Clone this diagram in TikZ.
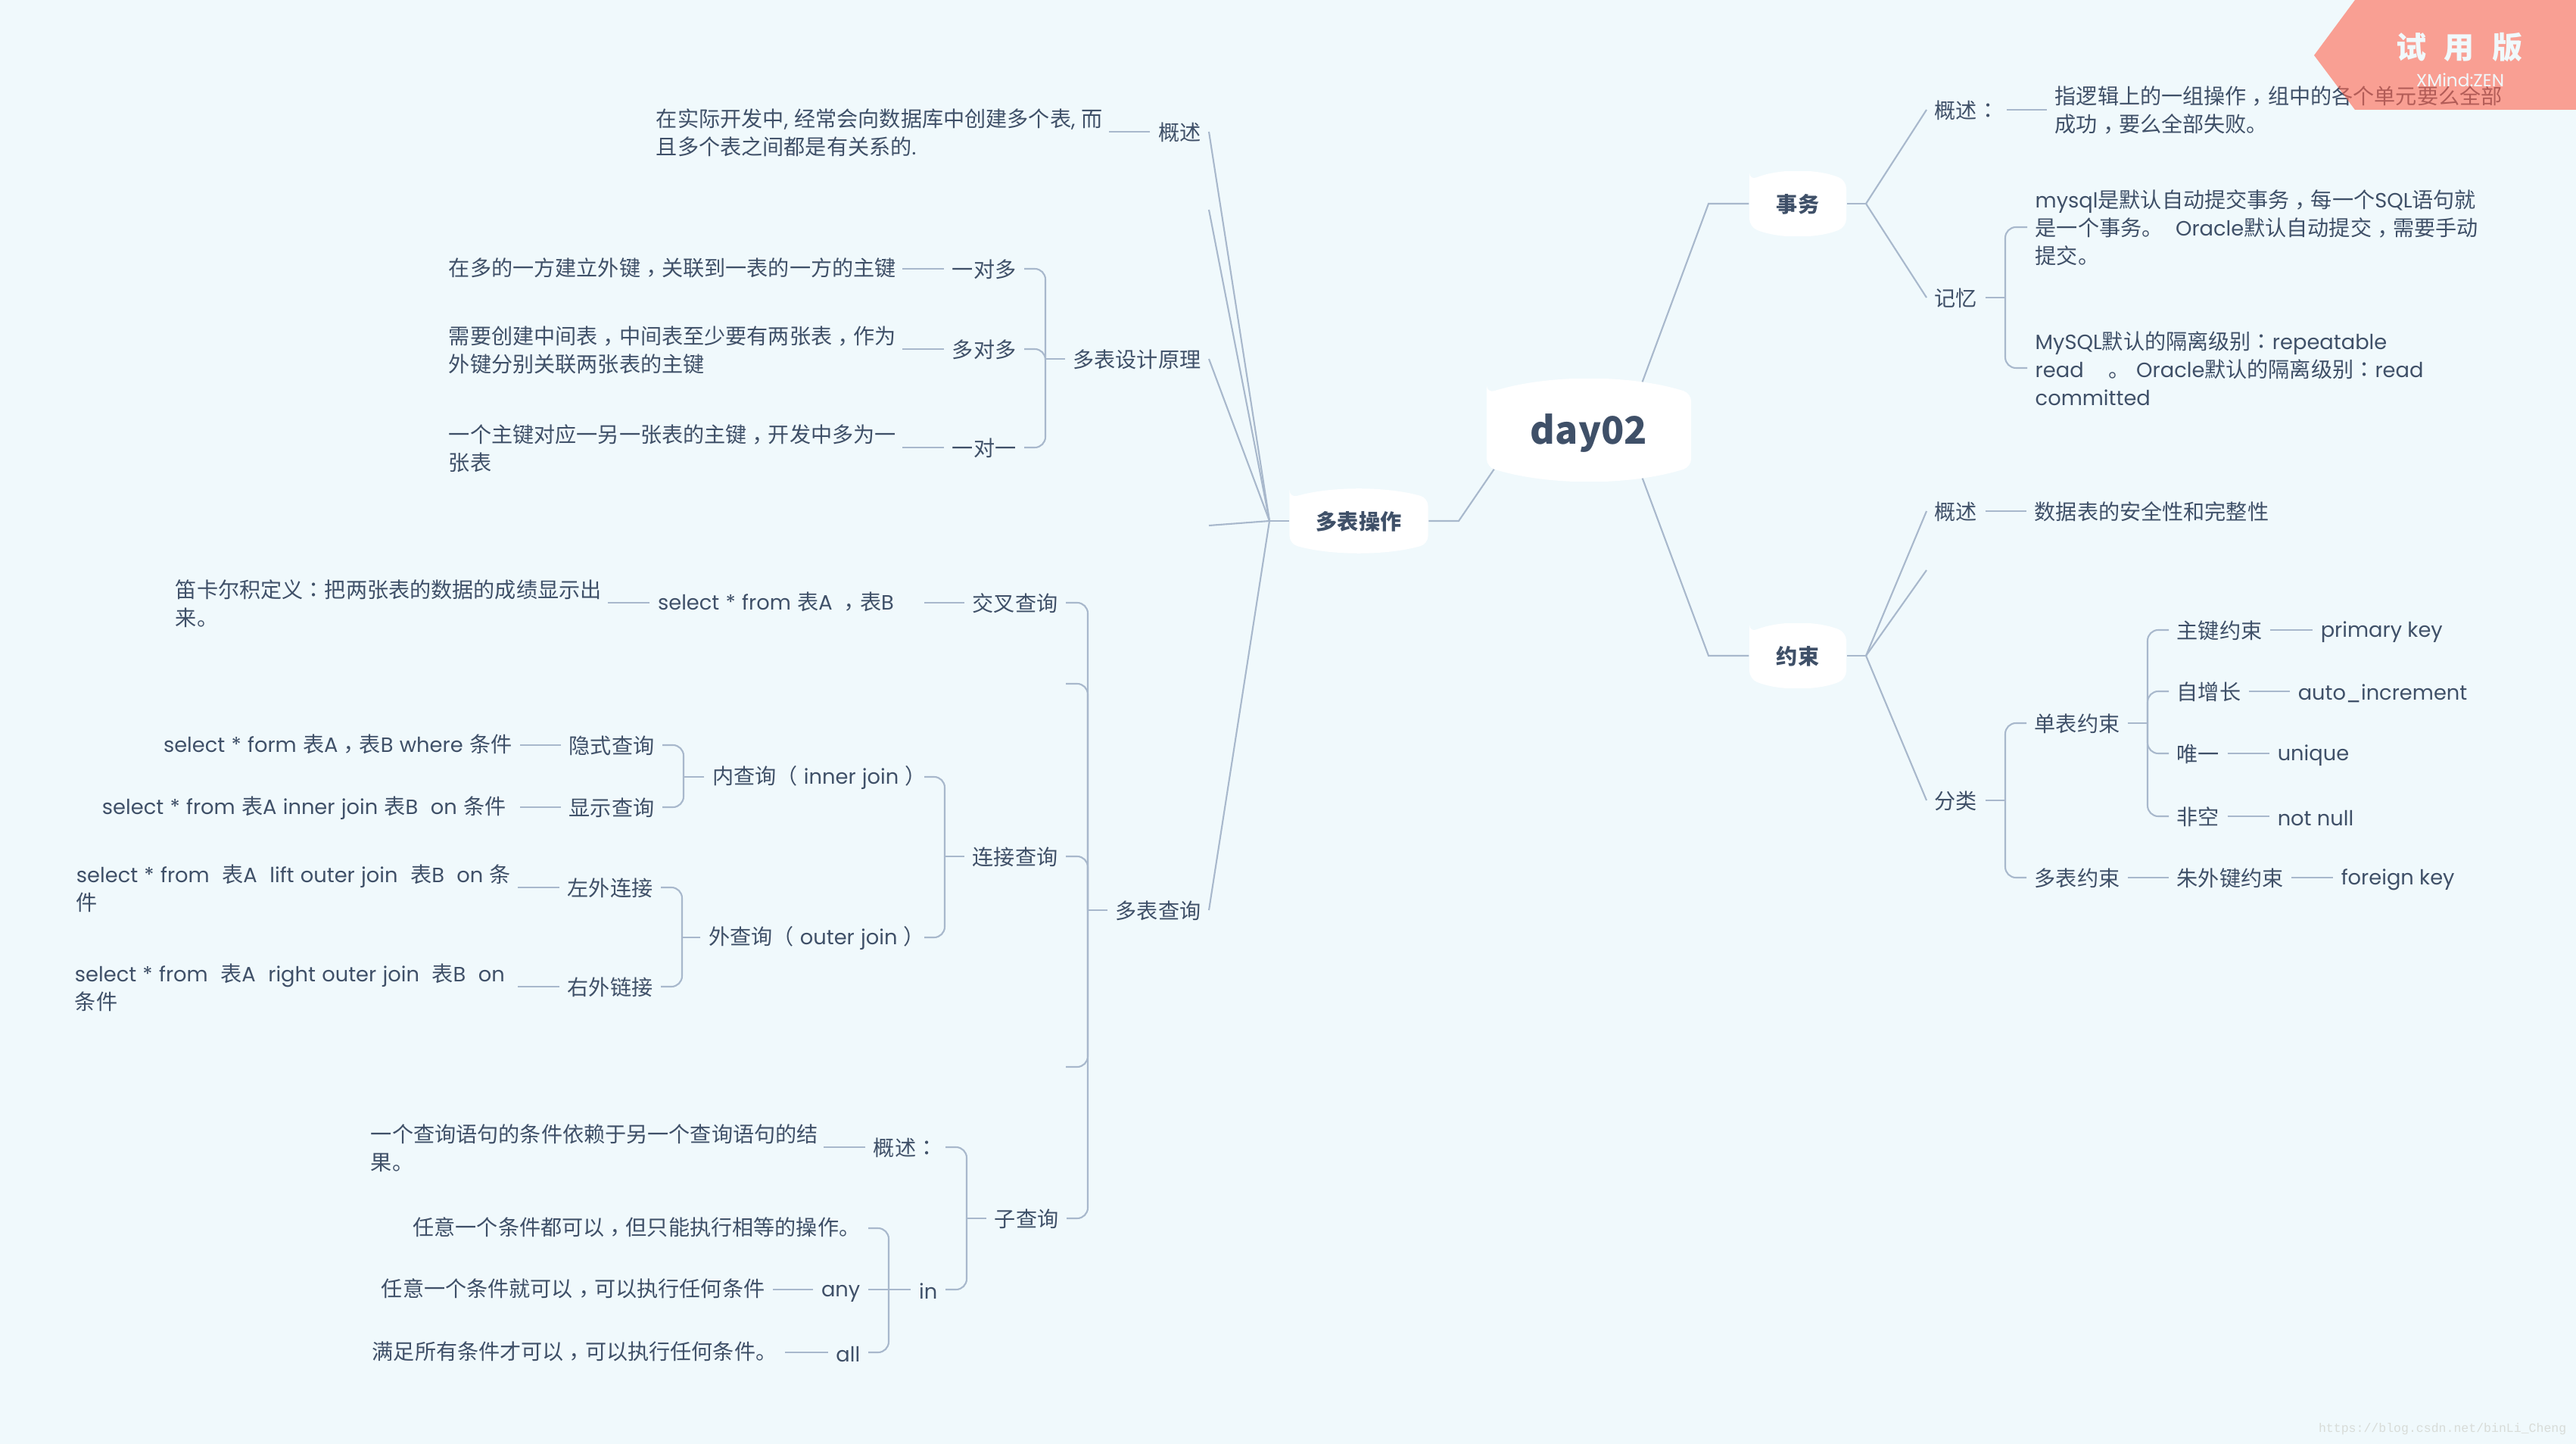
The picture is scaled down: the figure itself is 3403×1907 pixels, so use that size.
\documentclass[tikz,border=0pt]{standalone}
\usepackage{fontspec}
\setmainfont{Noto Sans CJK SC}
\newfontfamily\latfont[Scale=0.97, HyphenChar=None]{Poppins}
\newfontfamily\tcfont{Noto Sans CJK TC}
\newfontfamily\urlfont{Liberation Mono}
\usepackage{xcolor}
\usepackage{tikz}
\usetikzlibrary{calc, backgrounds}
\definecolor{MapPaper}{RGB}{240,249,252}
\definecolor{MapInk}{RGB}{63,80,104}
\definecolor{MapLine}{RGB}{168,184,204}
\definecolor{MapBanner}{RGB}{255,100,77}
\definecolor{MapMark}{RGB}{216,220,216}
\newcommand{\en}[1]{{\latfont #1}}
\newcommand{\zc}{\raisebox{-2.2pt}{\tcfont ，}}
\newcommand{\zk}{{\tcfont ：}}
\newcommand{\lnstrut}{\rule[-0.5pt]{0pt}{7.9pt}}
\def~{\nobreak\hskip 2.35pt\relax}

\begin{document}
\begin{tikzpicture}[
          x=0.01cm, y=-0.01cm,
          txt/.style={inner sep=0.1cm, text=MapInk,
                      font=\fontsize{8}{10.5}\selectfont,
                      execute at begin node=\lnstrut,
                      execute at end node=\lnstrut},
          note/.style={txt, align=left, text width=#1},
          capsule/.style 2 args={minimum width=#1, minimum height=#2,
                      inner sep=0pt, text=MapInk,
                      path picture={
                        \path (path picture bounding box.north west) coordinate (cnw)
                              (path picture bounding box.south east) coordinate (cse);
                        \path ($(cnw|-cse)!-.047!(cnw)$) coordinate (cbl)
                              ($(cse)!-.047!(cse|-cnw)$) coordinate (cbr)
                              ($(cnw)!-.047!(cnw|-cse)$) coordinate (ctl)
                              ($(cse|-cnw)!-.047!(cse)$) coordinate (ctr);
                        \fill[white, rounded corners=3pt]
                              ($(cnw)!.14!(cnw|-cse)$) -- ($(cnw|-cse)!.14!(cnw)$)
                              .. controls ($(cbl)!.3!(cbr)$) and ($(cbl)!.7!(cbr)$)
                              .. ($(cse)!.14!(cse|-cnw)$)
                              -- ($(cse|-cnw)!.14!(cse)$)
                              .. controls ($(ctl)!.7!(ctr)$) and ($(ctl)!.3!(ctr)$)
                              .. cycle;}},
          topic/.style 2 args={capsule={#1}{#2},
                      font=\fontsize{8}{10.5}\selectfont\bfseries,
                      execute at begin node=\lnstrut},
          conn/.style={draw=MapLine, line width=0.6pt},
          brk/.style={conn, rounded corners=4pt}
        ]
        \useasboundingbox (0,0) rectangle (3403,1907);

        % central topic and main branches
        \node[capsule={2.7cm}{1.35cm}, font=\fontsize{14.2}{16}\selectfont\bfseries] (day02) at (2099,568)
              {\rule[-2pt]{0pt}{15.7pt}day02};
        \node[topic={1.28cm}{0.85cm}] (shiwu) at (2375,269) {事务};
        \node[topic={1.28cm}{0.85cm}] (yueshu) at (2375,866) {约束};
        \node[topic={1.83cm}{0.84cm}] (duobiao) at (1795,688) {多表操作};

        \coordinate (elbowA) at (2257,269);
        \coordinate (elbowB) at (2257,866);
        \coordinate (elbowC) at (1927,688);
        \coordinate (forkA) at (2465,269);
        \coordinate (forkB) at (2465,866);
        \coordinate (forkC) at (1677,688);

        % transaction branch
        \node[txt, anchor=west] (swgs) at (2545,145) {概述\zk};
        \node[note=6cm, anchor=west] (swgsn) at (2704,147)
              {指逻辑上的一组操作\zc 组中的各个单元要么全部\\成功\zc 要么全部失败。};
        \node[txt, anchor=west] (jiyi) at (2545,393) {记忆};
        \coordinate (brkjy) at (2649,393);
        \node[note=6.1cm, anchor=west] (jyn1) at (2678,300)
              {\en{mysql}是默认自动提交事务\zc 每一个\en{SQL}语句就\\是一个事务。\en{~~Oracle}默认自动提交\zc 需要手动\\提交。};
        \node[note=6.1cm, anchor=west] (jyn2) at (2678,486)
              {\en{MySQL}默认的隔离级别\zk\en{repeatable}\\\en{read~~~~}。\en{~Oracle}默认的隔离级别\zk\en{read}\\\en{committed}};

        % constraint branch
        \node[txt, anchor=west] (ysgs) at (2545,675) {概述};
        \node[txt, anchor=west] (ysgsn) at (2677,675) {数据表的安全性和完整性};
        \coordinate (ysfree) at (2545,753);
        \node[txt, anchor=west] (fenlei) at (2545,1057) {分类};
        \coordinate (brkfl) at (2649,1057);
        \node[txt, anchor=west] (dan) at (2677,955) {单表约束};
        \node[txt, anchor=west] (duo) at (2677,1159) {多表约束};
        \coordinate (brkdan) at (2837,955);
        \node[txt, anchor=west] (zhujian) at (2865,832) {主键约束};
        \node[txt, anchor=west] (zizeng) at (2865,913) {自增长};
        \node[txt, anchor=west] (weiyi) at (2865,995) {唯一};
        \node[txt, anchor=west] (feikong) at (2865,1078) {非空};
        \node[txt, anchor=west] (waijian) at (2865,1159) {朱外键约束};
        \node[txt, anchor=west] (primary) at (3055,832) {\en{primary key}};
        \node[txt, anchor=west] (autoinc) at (3025,913) {\en{auto\_increment}};
        \node[txt, anchor=west] (unique) at (2998,995) {\en{unique}};
        \node[txt, anchor=west] (notnull) at (2998,1078) {\en{not null}};
        \node[txt, anchor=west] (foreign) at (3082,1159) {\en{foreign key}};

        % design branch
        \node[txt, anchor=east] (lgs) at (1597,174) {概述};
        \node[note=5.87cm, anchor=east] (lgsn) at (1465,174)
              {在实际开发中\en{,~}经常会向数据库中创建多个表\en{,~}而\\且多个表之间都是有关系的\en{.}};
        \coordinate (lfree1) at (1597,277);
        \coordinate (lfree2) at (1597,694);
        \node[txt, anchor=east] (sheji) at (1597,474) {多表设计原理};
        \coordinate (brksj) at (1381,474);
        \node[txt, anchor=east] (yiduo) at (1353,355) {一对多};
        \node[txt, anchor=east] (duoduo) at (1353,461) {多对多};
        \node[txt, anchor=east] (yiyi) at (1353,591) {一对一};
        \node[note=5.88cm, anchor=east] (yiduon) at (1192,355)
              {在多的一方建立外键\zc 关联到一表的一方的主键};
        \node[note=5.88cm, anchor=east] (duoduon) at (1192,461)
              {需要创建中间表\zc 中间表至少要有两张表\zc 作为\\外键分别关联两张表的主键};
        \node[note=5.88cm, anchor=east] (yiyin) at (1192,591)
              {一个主键对应一另一张表的主键\zc 开发中多为一\\张表};

        % query branch
        \node[txt, anchor=east] (chaxun) at (1597,1202) {多表查询};
        \coordinate (brkcx) at (1437,1202);
        \coordinate (cxfree1) at (1408,903);
        \coordinate (cxfree2) at (1408,1409);
        \node[txt, anchor=east] (jiaocha) at (1408,796) {交叉查询};
        \node[note=3.41cm, anchor=east] (selab) at (1221,796) {\en{select~*~from~}表\en{A~}\zc 表\en{B}};
        \node[note=5.6cm, anchor=east] (dikaer) at (803,796)
              {笛卡尔积定义\zk 把两张表的数据的成绩显示出\\来。};

        \node[txt, anchor=east] (lianjie) at (1408,1131) {连接查询};
        \coordinate (brklj) at (1248,1131);
        \node[note=2.69cm, anchor=east] (neicx) at (1221,1026) {内查询（\en{~inner~join~}）};
        \node[note=2.74cm, anchor=east] (waicx) at (1221,1238) {外查询（\en{~outer~join~}）};
        \coordinate (brknei) at (903,1026);
        \coordinate (brkwai) at (901,1238);
        \node[txt, anchor=east] (yinshi) at (875,984) {隐式查询};
        \node[txt, anchor=east] (xianshi) at (875,1066) {显示查询};
        \node[txt, anchor=east] (zuowai) at (873,1172) {左外连接};
        \node[txt, anchor=east] (youwai) at (873,1303) {右外链接};
        \node[note=4.6cm, anchor=east] (yinshin) at (687,984)
              {\en{select~*~form~}表\en{A}\zc 表\en{B~where~}条件};
        \node[note=5.41cm, anchor=east] (xianshin) at (687,1066)
              {\en{select~*~from~}表\en{A~inner~join~}表\en{B~~on~}条件};
        \node[note=5.72cm, anchor=east] (zuowain) at (684,1172)
              {\en{select~*~from~~}表\en{A~~lift~outer~join~~}表\en{B~~on~}条\\件};
        \node[note=5.74cm, anchor=east] (youwain) at (684,1303)
              {\en{select~*~from~~}表\en{A~~right~outer~join~~}表\en{B~~on}\\条件};

        \node[txt, anchor=east] (ziquery) at (1409,1609) {子查询};
        \coordinate (brkzi) at (1277,1609);
        \node[txt, anchor=east] (zigs) at (1249,1515) {概述\zk};
        \node[note=5.87cm, anchor=east] (zigsn) at (1088,1515)
              {一个查询语句的条件依赖于另一个查询语句的结\\果。};
        \node[txt, anchor=east] (sqlin) at (1249,1703) {\en{in}};
        \coordinate (brkin) at (1174,1703);
        \node[txt, anchor=east] (sqleq) at (1147,1622) {任意一个条件都可以\zc 但只能执行相等的操作。};
        \node[txt, anchor=east] (sqlany) at (1147,1703) {\en{any}};
        \node[txt, anchor=east] (sqlall) at (1147,1786) {\en{all}};
        \node[txt, anchor=east] (anyn) at (1021,1703) {任意一个条件就可以\zc 可以执行任何条件};
        \node[txt, anchor=east] (alln) at (1037,1786) {满足所有条件才可以\zc 可以执行任何条件。};

        % connectors go under the capsules
        \begin{pgfonlayer}{background}
          \fill[MapPaper] (0,0) rectangle (3403,1907);

          \draw[conn] (shiwu.west) -- (elbowA) -- ($(day02.center)+(47,0)$);
          \draw[conn] (yueshu.west) -- (elbowB) -- ($(day02.center)+(47,0)$);
          \draw[conn] (duobiao.east) -- (elbowC) -- ($(day02.center)+(-90,0)$);
          \draw[conn] (shiwu.east) -- (forkA);
          \draw[conn] (yueshu.east) -- (forkB);
          \draw[conn] (duobiao.west) -- (forkC);

          \draw[conn] (forkA) -- (swgs.west);
          \draw[conn] (forkA) -- (jiyi.west);
          \draw[conn] (swgs.east) -- (swgsn.west|-swgs.east);
          \draw[conn] (jiyi.east) -- (brkjy);
          \draw[brk] (jyn1.west) -| (brkjy) |- (jyn2.west);

          \draw[conn] (forkB) -- (ysgs.west);
          \draw[conn] (forkB) -- (ysfree);
          \draw[conn] (forkB) -- (fenlei.west);
          \draw[conn] (ysgs.east) -- (ysgsn.west);
          \draw[conn] (fenlei.east) -- (brkfl);
          \draw[brk] (dan.west) -| (brkfl) |- (duo.west);
          \draw[conn] (dan.east) -- (brkdan);
          \draw[brk] (zhujian.west) -| (brkdan) |- (feikong.west);
          \draw[brk] (zizeng.west) -| (brkdan);
          \draw[brk] (weiyi.west) -| (brkdan);
          \draw[conn] (duo.east) -- (waijian.west);
          \draw[conn] (zhujian.east) -- (primary.west);
          \draw[conn] (zizeng.east) -- (autoinc.west);
          \draw[conn] (weiyi.east) -- (unique.west);
          \draw[conn] (feikong.east) -- (notnull.west);
          \draw[conn] (waijian.east) -- (foreign.west);

          \draw[conn] (forkC) -- (lgs.east);
          \draw[conn] (forkC) -- (lfree1);
          \draw[conn] (forkC) -- (sheji.east);
          \draw[conn] (forkC) -- (lfree2);
          \draw[conn] (forkC) -- (chaxun.east);
          \draw[conn] (lgs.west) -- (lgsn.east);

          \draw[conn] (sheji.west) -- (brksj);
          \draw[brk] (yiduo.east) -| (brksj) |- (yiyi.east);
          \draw[brk] (duoduo.east) -| (brksj);
          \draw[conn] (yiduo.west) -- (yiduon.east);
          \draw[conn] (duoduo.west) -- (duoduon.east);
          \draw[conn] (yiyi.west) -- (yiyin.east);

          \draw[conn] (chaxun.west) -- (brkcx);
          \draw[brk] (jiaocha.east) -| (brkcx) |- (ziquery.east);
          \draw[brk] (cxfree1) -| (brkcx);
          \draw[brk] (lianjie.east) -| (brkcx);
          \draw[brk] (cxfree2) -| (brkcx);
          \draw[conn] (jiaocha.west) -- (selab.east);
          \draw[conn] (selab.west) -- (dikaer.east);

          \draw[conn] (lianjie.west) -- (brklj);
          \draw[brk] (neicx.east) -| (brklj) |- (waicx.east);
          \draw[conn] (neicx.west) -- (brknei);
          \draw[brk] (yinshi.east) -| (brknei) |- (xianshi.east);
          \draw[conn] (waicx.west) -- (brkwai);
          \draw[brk] (zuowai.east) -| (brkwai) |- (youwai.east);
          \draw[conn] (yinshi.west) -- (yinshin.east);
          \draw[conn] (xianshi.west) -- (xianshin.east);
          \draw[conn] (zuowai.west) -- (zuowain.east);
          \draw[conn] (youwai.west) -- (youwain.east);

          \draw[conn] (ziquery.west) -- (brkzi);
          \draw[brk] (zigs.east) -| (brkzi) |- (sqlin.east);
          \draw[conn] (zigs.west) -- (zigsn.east);
          \draw[conn] (sqlin.west) -- (sqlany.east);
          \draw[brk] (sqleq.east) -| (brkin) |- (sqlall.east);
          \draw[conn] (sqlany.west) -- (anyn.east);
          \draw[conn] (sqlall.west) -- (alln.east);
        \end{pgfonlayer}

        % trial banner lies over the text
        \fill[MapBanner, opacity=0.6] (3057,73) -- (3111,0) -- (3403,0) -- (3403,145) -- (3111,145) -- cycle;
        \node[inner sep=0pt, text=MapPaper, font=\fontsize{11.4}{13}\selectfont\bfseries] (trial) at (3249,63)
              {试\hspace{0.23cm}用\hspace{0.23cm}版};
        \node[inner sep=0pt, text=MapPaper, font=\fontsize{6.8}{8}\latfont] (brand) at (3250,106) {XMind:ZEN};
        \node[inner sep=0pt, text=MapMark, font=\fontsize{4.7}{6}\urlfont, anchor=east] (mark) at (3391,1887)
              {https://blog.csdn.net/binLi\_Cheng};
      \end{tikzpicture}
\end{document}
